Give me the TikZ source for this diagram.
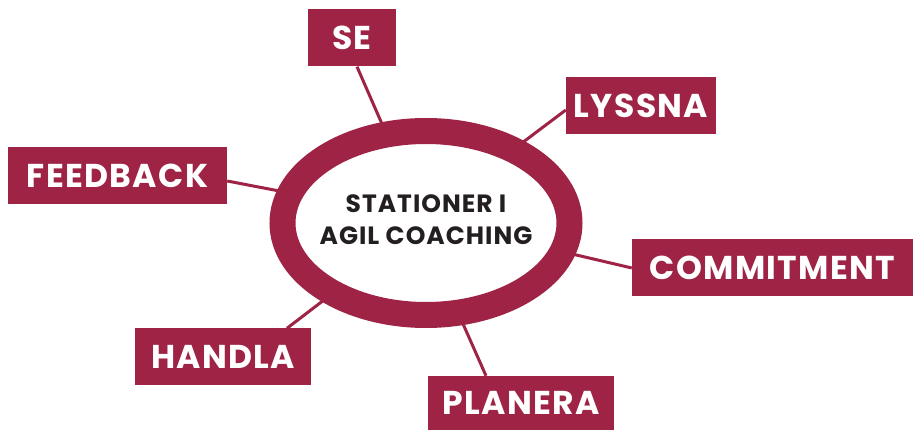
\documentclass[tikz,border=0pt]{standalone}
\usepackage{fontspec}
\usetikzlibrary{shapes.geometric}
\setmainfont{Poppins}
\newfontfamily\labelfont[LetterSpace=4]{Poppins}
\definecolor{wine}{HTML}{9E2345}
\definecolor{ink}{HTML}{231F20}
\begin{document}
\begin{tikzpicture}[x=1pt,y=-1pt,
  station/.style={fill=wine, text=white, minimum height=57pt, inner sep=0pt,
    font=\labelfont\bfseries\fontsize{33}{33}\selectfont},
  spoke/.style={draw=wine, line width=3pt}]
\useasboundingbox (0,0) rectangle (914,430);

% station boxes
\node[station, minimum width=88pt]  (se)   at (352,38)    {SE};
\node[station, minimum width=150pt] (lys)  at (641,106)   {LYSSNA};
\node[station, minimum width=219pt] (fb)   at (117.5,176) {FEEDBACK};
\node[station, minimum width=281pt] (com)  at (772.5,268) {COMMITMENT};
\node[station, minimum width=176pt] (han)  at (223,357)   {HANDLA};
\node[station, minimum width=186pt, minimum height=54pt] (pla) at (521,403) {PLANERA};

% inner ends of the spokes, hidden under the ring
\coordinate (se-in)  at (389,140);
\coordinate (lys-in) at (510,152);
\coordinate (fb-in)  at (295,194);
\coordinate (com-in) at (555,250);
\coordinate (han-in) at (337,290);
\coordinate (pla-in) at (456,308);

\draw[spoke] ([xshift=5pt]se.south)   -- (se-in);
\draw[spoke] ([yshift=-4pt]lys.west)  -- (lys-in);
\draw[spoke] ([yshift=-5pt]fb.east)   -- (fb-in);
\draw[spoke] (com.west)               -- (com-in);
\draw[spoke] ([xshift=64pt]han.north) -- (han-in);
\draw[spoke] ([xshift=-35pt]pla.north) -- (pla-in);

% central ring
\node[ellipse, draw=wine, line width=26pt, fill=white, minimum width=287pt,
  minimum height=184pt, inner sep=0pt] (hub) at (426,223) {};
\node[text=ink, align=center, font=\labelfont\bfseries\fontsize{25}{32}\selectfont]
  (title) at ([yshift=3pt]hub.center) {STATIONER I\\AGIL COACHING};
\end{tikzpicture}
\end{document}
